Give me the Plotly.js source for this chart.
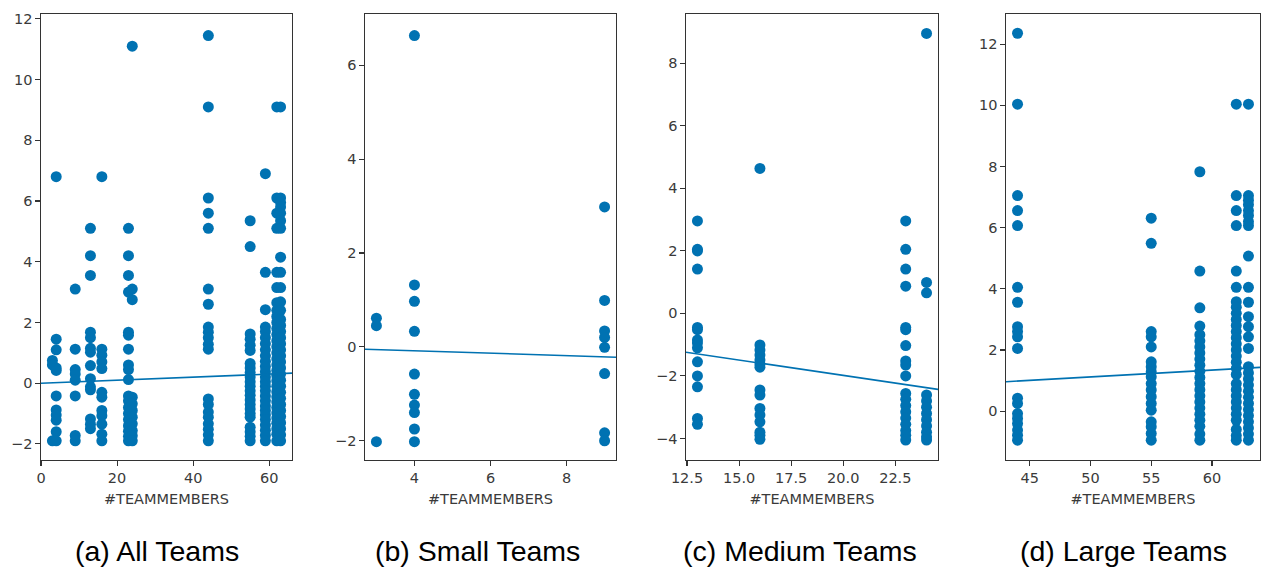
<!DOCTYPE html>
<html>
<head>
<meta charset="utf-8">
<script src="https://cdn.plot.ly/plotly-3.0.1.min.js"></script>
<style>
  html, body { margin: 0; padding: 0; background: #ffffff; }
  #chart { width: 1261px; height: 567px; }
</style>
</head>
<body>
<div id="chart"></div>
<script>
// Team size (x) against score (y), one column of values per team size.

// (a) All teams
const allTeamSizes = [3, 4, 9, 13, 16, 23, 24, 44, 55, 59, 62, 63];
const allTeamScores = [
  [0.75, 0.6, -1.9],
  [6.8, 1.45, 1.1, 0.5, 0.42, -0.42, -0.88, -1.05, -1.22, -1.6, -1.9],
  [3.1, 1.12, 0.45, 0.3, 0.1, -0.42, -1.72, -1.9],
  [5.1, 4.2, 3.55, 1.68, 1.5, 1.15, 1.02, 0.58, 0.15, -0.12, -0.22, -1.18, -1.35, -1.5],
  [6.8, 1.12, 0.92, 0.7, 0.48, -0.3, -0.46, -0.9, -1.07, -1.35, -1.68, -1.9],
  [5.1, 4.2, 3.55, 3.0, 1.68, 1.58, 1.12, 0.6, 0.45, 0.12, -0.42, -0.58, -0.8, -1.0, -1.2, -1.4, -1.58, -1.75, -1.9],
  [11.1, 3.1, 2.75, -0.46, -0.68, -0.9, -1.12, -1.34, -1.56, -1.73, -1.9],
  [11.45, 9.1, 6.1, 5.6, 5.1, 3.1, 2.6, 1.85, 1.68, 1.5, 1.28, 1.12, -0.52, -0.7, -0.95, -1.12, -1.34, -1.52, -1.7, -1.9],
  [5.35, 4.5, 1.62, 1.45, 1.25, 1.08, 0.65, 0.5, 0.35, 0.2, 0.05, -0.1, -0.25, -0.4, -0.55, -0.7, -0.85, -1.0, -1.12, -1.45, -1.6, -1.75, -1.9],
  [6.9, 3.65, 2.42, 1.85, 1.7, 1.5, 1.3, 1.1, 0.9, 0.72, 0.55, 0.38, 0.2, 0.05, -0.1, -0.25, -0.42, -0.58, -0.75, -0.9, -1.05, -1.2, -1.38, -1.55, -1.72, -1.9],
  [9.1, 6.1, 5.6, 5.1, 3.65, 3.15, 2.65, 2.4, 2.2, 2.0, 1.8, 1.6, 1.4, 1.2, 1.0, 0.8, 0.6, 0.42, 0.25, 0.08, -0.1, -0.28, -0.45, -0.62, -0.8, -0.98, -1.15, -1.32, -1.5, -1.68, -1.9],
  [9.1, 6.1, 5.95, 5.8, 5.6, 5.35, 5.1, 4.15, 3.65, 3.15, 2.68, 2.4, 2.1, 1.9, 1.7, 1.5, 1.3, 1.1, 0.9, 0.7, 0.5, 0.3, 0.1, -0.1, -0.3, -0.5, -0.7, -0.9, -1.1, -1.3, -1.5, -1.7, -1.9]
];
const allFitX = [0, 66];
const allFitY = [0.0, 0.33];

// (b) Small teams
const smallTeamSizes = [3, 4, 9];
const smallTeamScores = [
  [0.61, 0.45, -2.02],
  [6.63, 1.32, 0.97, 0.33, -0.58, -1.01, -1.24, -1.4, -1.75, -2.02],
  [2.98, 0.99, 0.34, 0.2, -0.01, -0.57, -1.83, -2.0]
];
const smallFitX = [2.7, 9.3];
const smallFitY = [-0.05, -0.22];

// (c) Medium teams
const mediumTeamSizes = [13, 16, 23, 24];
const mediumTeamScores = [
  [2.96, 2.05, 2.0, 1.42, -0.45, -0.52, -0.85, -0.95, -1.1, -1.55, -2.0, -2.35, -3.36, -3.55],
  [4.64, -1.01, -1.17, -1.33, -1.49, -1.62, -1.72, -2.45, -2.61, -3.04, -3.25, -3.47, -3.8, -3.9, -4.03],
  [2.96, 2.05, 1.42, 0.87, -0.45, -0.52, -1.03, -1.52, -1.65, -2.0, -2.56, -2.75, -2.95, -3.15, -3.35, -3.55, -3.75, -3.9, -4.05],
  [8.96, 0.99, 0.66, -2.61, -2.8, -3.0, -3.2, -3.4, -3.6, -3.8, -3.95, -4.05]
];
const mediumFitX = [12.45, 24.55];
const mediumFitY = [-1.24, -2.43];

// (d) Large teams
const largeTeamSizes = [44, 55, 59, 62, 63];
const largeTeamScores = [
  [12.36, 10.04, 7.05, 6.56, 6.07, 4.05, 3.56, 2.76, 2.6, 2.43, 2.05, 0.42, 0.25, -0.08, -0.24, -0.41, -0.62, -0.79, -0.95],
  [6.31, 5.49, 2.6, 2.43, 2.1, 1.61, 1.45, 1.29, 1.12, 0.9, 0.69, 0.47, 0.25, 0.03, -0.35, -0.51, -0.73, -0.95],
  [7.83, 4.58, 3.38, 2.78, 2.5, 2.3, 2.1, 1.9, 1.7, 1.5, 1.3, 1.1, 0.9, 0.7, 0.5, 0.3, 0.1, -0.1, -0.3, -0.5, -0.75, -0.95],
  [10.04, 7.05, 6.56, 6.07, 4.58, 4.05, 3.58, 3.4, 3.2, 3.0, 2.8, 2.6, 2.4, 2.2, 2.0, 1.8, 1.6, 1.4, 1.2, 0.9, 0.7, 0.5, 0.3, 0.1, -0.1, -0.3, -0.6, -0.8, -0.95],
  [10.04, 7.05, 6.9, 6.75, 6.56, 6.4, 6.2, 6.07, 5.07, 4.05, 3.56, 3.09, 2.76, 2.43, 2.05, 1.45, 1.25, 1.05, 0.85, 0.65, 0.45, 0.25, 0.05, -0.15, -0.35, -0.55, -0.75, -0.95]
];
const largeFitX = [43.05, 63.95];
const largeFitY = [0.96, 1.43];

const panelCaptions = ['(a) All Teams', '(b) Small Teams', '(c) Medium Teams', '(d) Large Teams'];
const xAxisLabel = '#TEAMMEMBERS';

// ---- drawing ----
const W = 1261, H = 567;
const BLUE = '#0072B2';

function flatten(sizes, scores) {
  const x = [], y = [];
  sizes.forEach((s, i) => scores[i].forEach(v => { x.push(s); y.push(v); }));
  return { x, y };
}

const panels = [
  { sizes: allTeamSizes, scores: allTeamScores, fx: allFitX, fy: allFitY,
    px: [41, 292], xr: [0, 66], yr: [-2.53, 12.16], xdt: 20, xfmt: '', capX: 157 },
  { sizes: smallTeamSizes, scores: smallTeamScores, fx: smallFitX, fy: smallFitY,
    px: [365, 616], xr: [2.7, 9.3], yr: [-2.41, 7.09], xdt: 2, xfmt: '', capX: 477 },
  { sizes: mediumTeamSizes, scores: mediumTeamScores, fx: mediumFitX, fy: mediumFitY,
    px: [686, 938], xr: [12.45, 24.55], yr: [-4.69, 9.58], xdt: 2.5, xfmt: '.1f', capX: 800 },
  { sizes: largeTeamSizes, scores: largeTeamScores, fx: largeFitX, fy: largeFitY,
    px: [1006, 1260], xr: [43.05, 63.95], yr: [-1.6, 12.99], xdt: 5, xfmt: '', capX: 1123 }
];

const yDomain = [1 - 460 / H, 1 - 14 / H];
const tickFont = { family: 'DejaVu Sans, sans-serif', size: 14.5, color: '#3a3a3a' };

const traces = [];
const layout = {
  width: W, height: H,
  margin: { l: 0, r: 0, t: 0, b: 0 },
  paper_bgcolor: '#ffffff', plot_bgcolor: '#ffffff',
  showlegend: false,
  annotations: []
};

panels.forEach((p, i) => {
  const n = i === 0 ? '' : String(i + 1);
  const pts = flatten(p.sizes, p.scores);
  traces.push({
    type: 'scatter', mode: 'markers', x: pts.x, y: pts.y,
    xaxis: 'x' + n, yaxis: 'y' + n,
    marker: { color: BLUE, size: 11, line: { width: 0 } },
    hoverinfo: 'skip'
  });
  traces.push({
    type: 'scatter', mode: 'lines', x: p.fx, y: p.fy,
    xaxis: 'x' + n, yaxis: 'y' + n,
    line: { color: BLUE, width: 1.6 },
    hoverinfo: 'skip'
  });
  const axBase = {
    showline: true, mirror: true, linecolor: '#333333', linewidth: 1.2,
    ticks: 'outside', ticklen: 4.5, tickwidth: 1.1, tickcolor: '#333333',
    showgrid: false, zeroline: false, tickfont: tickFont, fixedrange: true
  };
  layout['xaxis' + n] = Object.assign({}, axBase, {
    domain: [p.px[0] / W, p.px[1] / W], range: p.xr, anchor: 'y' + n,
    tickmode: 'linear', tick0: 0, dtick: p.xdt, tickformat: p.xfmt,
    title: { text: xAxisLabel, font: { family: 'DejaVu Sans, sans-serif', size: 14.5, color: '#3a3a3a' }, standoff: 8 }
  });
  layout['yaxis' + n] = Object.assign({}, axBase, {
    domain: yDomain, range: p.yr, anchor: 'x' + n,
    tickmode: 'linear', tick0: 0, dtick: 2
  });
  layout.annotations.push({
    xref: 'paper', yref: 'paper', x: p.capX / W, y: 1 - 551 / H,
    xanchor: 'center', yanchor: 'middle', showarrow: false,
    text: panelCaptions[i],
    font: { family: 'Liberation Sans, Arial, sans-serif', size: 28.5, color: '#000000' }
  });
});

Plotly.newPlot('chart', traces, layout, { staticPlot: true, displayModeBar: false });
</script>
</body>
</html>
